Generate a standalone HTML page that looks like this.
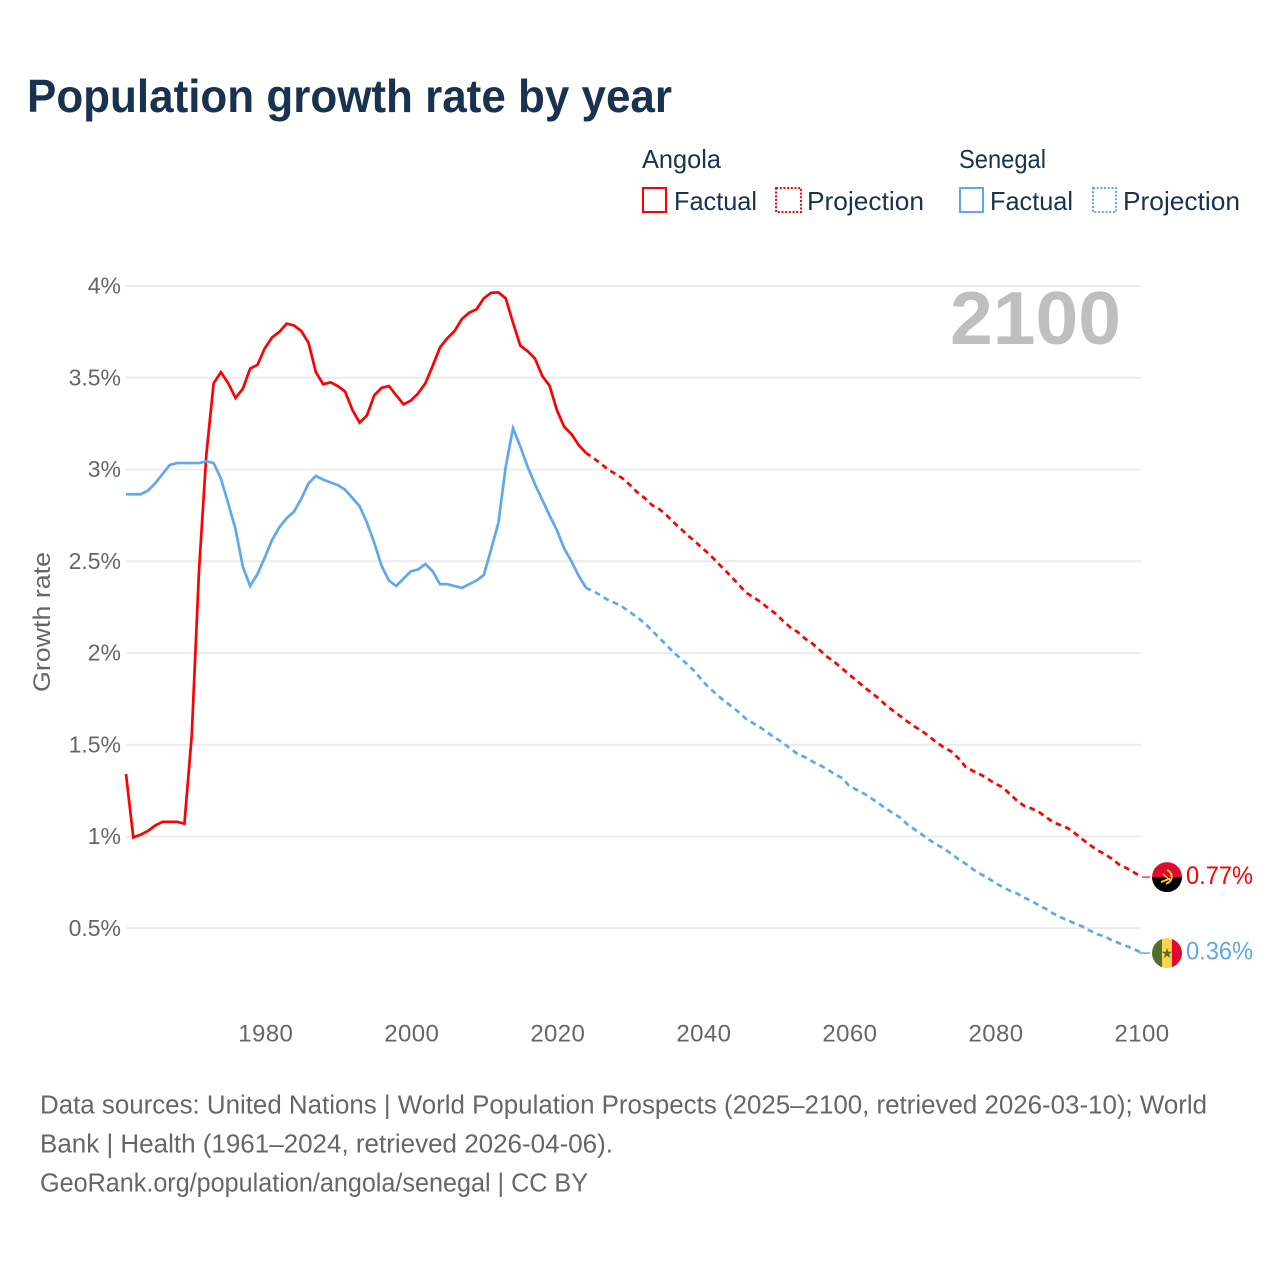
<!DOCTYPE html>
<html lang="en">
<head>
<meta charset="utf-8">
<title>Population growth rate by year</title>
<style>
html,body{margin:0;padding:0;background:#fff;width:1280px;height:1280px;overflow:hidden}
svg{display:block}
text{font-family:"Liberation Sans",sans-serif}
</style>
</head>
<body>
<svg id="chart" xmlns="http://www.w3.org/2000/svg" width="1280" height="1280" viewBox="0 0 1280 1280">
  <rect x="0" y="0" width="1280" height="1280" fill="#fff"/>
  <text x="27" y="112" font-size="46" font-weight="700" fill="#18324f" textLength="645" lengthAdjust="spacingAndGlyphs">Population growth rate by year</text>

  <g font-size="26" fill="#18324f">
    <text x="642" y="168" textLength="79" lengthAdjust="spacingAndGlyphs">Angola</text>
    <rect x="643" y="188" width="23" height="24" fill="#fff" stroke="#ff0000" stroke-width="2"/>
    <text x="674" y="210" textLength="83" lengthAdjust="spacingAndGlyphs">Factual</text>
    <rect x="776" y="188" width="25" height="24" fill="#fff" stroke="#ff0000" stroke-width="2" stroke-dasharray="2 1.7"/>
    <text x="807" y="210" textLength="117" lengthAdjust="spacingAndGlyphs">Projection</text>
    <text x="959" y="168" textLength="87" lengthAdjust="spacingAndGlyphs">Senegal</text>
    <rect x="960" y="188" width="23" height="24" fill="#fff" stroke="#5fa8ee" stroke-width="2"/>
    <text x="990" y="210" textLength="83" lengthAdjust="spacingAndGlyphs">Factual</text>
    <rect x="1093" y="188" width="23" height="24" fill="#fff" stroke="#5fa8ee" stroke-width="2" stroke-dasharray="2 1.7"/>
    <text x="1123" y="210" textLength="117" lengthAdjust="spacingAndGlyphs">Projection</text>
  </g>

  <g id="grid"></g>
  <g id="yticks" font-size="23" fill="#666" text-anchor="end"></g>
  <g id="xticks" font-size="24" fill="#666" text-anchor="middle"></g>
  <text transform="translate(50,622) rotate(-90)" font-size="24" fill="#666" text-anchor="middle" textLength="140" lengthAdjust="spacingAndGlyphs">Growth rate</text>
  <text x="1121" y="344" font-size="75" font-weight="700" fill="#bfbfbf" text-anchor="end" textLength="171" lengthAdjust="spacingAndGlyphs">2100</text>

  <g id="series"></g>
  <g id="ends"></g>

  <g font-size="25.5" fill="#666">
    <text x="40" y="1113.5" textLength="1167" lengthAdjust="spacingAndGlyphs">Data sources: United Nations | World Population Prospects (2025–2100, retrieved 2026-03-10); World</text>
    <text x="40" y="1152.5" textLength="573" lengthAdjust="spacingAndGlyphs">Bank | Health (1961–2024, retrieved 2026-04-06).</text>
    <text x="40" y="1191.5" textLength="548" lengthAdjust="spacingAndGlyphs">GeoRank.org/population/angola/senegal | CC BY</text>
  </g>
</svg>
<script>
var yTickValues = [0.5, 1, 1.5, 2, 2.5, 3, 3.5, 4];
var yTickLabels = ["0.5%", "1%", "1.5%", "2%", "2.5%", "3%", "3.5%", "4%"];
var xTickValues = [1980, 2000, 2020, 2040, 2060, 2080, 2100];
var xTickLabels = ["1980", "2000", "2020", "2040", "2060", "2080", "2100"];
var factualStartYear = 1961;
var projectionStartYear = 2024;
var endLabels = ["0.77%", "0.36%"];

var angolaFactual = [1.34,0.995,1.01,1.03,1.06,1.08,1.08,1.08,1.07,1.55,2.45,3.08,3.47,3.53,3.47,3.39,3.44,3.55,3.57,3.66,3.72,3.75,3.795,3.785,3.755,3.69,3.53,3.465,3.475,3.455,3.425,3.325,3.255,3.295,3.405,3.445,3.455,3.405,3.355,3.375,3.415,3.47,3.565,3.665,3.715,3.755,3.82,3.855,3.873,3.933,3.963,3.965,3.933,3.80,3.675,3.645,3.605,3.51,3.457,3.325,3.233,3.193,3.133,3.09];
var senegalFactual = [2.865,2.865,2.865,2.885,2.925,2.975,3.025,3.035,3.035,3.035,3.035,3.045,3.035,2.95,2.815,2.675,2.47,2.365,2.43,2.52,2.615,2.685,2.735,2.77,2.84,2.925,2.965,2.945,2.93,2.915,2.89,2.845,2.80,2.71,2.60,2.475,2.395,2.365,2.405,2.445,2.455,2.485,2.445,2.375,2.375,2.365,2.355,2.375,2.395,2.425,2.565,2.71,3.015,3.225,3.125,3.015,2.92,2.835,2.75,2.67,2.57,2.50,2.42,2.355];
var angolaProjection = [3.090,3.063,3.033,3.000,2.977,2.952,2.916,2.877,2.845,2.807,2.785,2.752,2.712,2.676,2.638,2.605,2.569,2.534,2.492,2.452,2.411,2.368,2.327,2.302,2.275,2.243,2.213,2.174,2.139,2.114,2.078,2.052,2.016,1.980,1.951,1.918,1.884,1.851,1.817,1.786,1.755,1.718,1.687,1.657,1.627,1.599,1.575,1.545,1.513,1.486,1.464,1.426,1.379,1.357,1.338,1.315,1.288,1.270,1.233,1.196,1.167,1.153,1.134,1.106,1.077,1.062,1.045,1.016,0.984,0.954,0.926,0.905,0.879,0.847,0.828,0.805,0.782];
var senegalProjection = [2.354,2.338,2.314,2.289,2.272,2.251,2.223,2.195,2.163,2.125,2.083,2.044,2.003,1.968,1.935,1.894,1.845,1.806,1.770,1.737,1.707,1.675,1.638,1.615,1.591,1.562,1.535,1.510,1.478,1.449,1.432,1.409,1.389,1.368,1.341,1.320,1.278,1.256,1.235,1.210,1.183,1.154,1.128,1.104,1.066,1.038,1.011,0.982,0.956,0.935,0.906,0.876,0.851,0.821,0.796,0.774,0.749,0.725,0.706,0.690,0.667,0.649,0.625,0.605,0.580,0.560,0.543,0.525,0.509,0.487,0.468,0.456,0.435,0.419,0.403,0.387,0.368];

var NS = "http://www.w3.org/2000/svg";
function xScale(year) { return 126 + (year - 1961) * (1015 / 139); }
function yScale(v) { return 1020 - v * 183.5; }
function make(tag, parent) {
  var el = document.createElementNS(NS, tag);
  document.getElementById(parent).appendChild(el);
  return el;
}
function pathFor(values, startYear) {
  return values.map(function (v, i) {
    return (i ? "L" : "M") + xScale(startYear + i).toFixed(2) + " " + yScale(v).toFixed(2);
  }).join("");
}

yTickValues.forEach(function (v, i) {
  var line = make("line", "grid");
  
  
  line.setAttribute("x1", 126);
  line.setAttribute("x2", 1141);
  line.setAttribute("y1", yScale(v));
  line.setAttribute("y2", yScale(v));
  line.setAttribute("stroke", "#ececec");
  line.setAttribute("stroke-width", 2);
  var t = make("text", "yticks");
  
  
  t.setAttribute("x", 121);
  t.setAttribute("y", yScale(v) + 7.5);
  t.textContent = yTickLabels[i];
});

xTickValues.forEach(function (yr, i) {
  var t = make("text", "xticks");
  
  
  t.setAttribute("x", xScale(yr) + 1);
  t.setAttribute("y", 1041.5);
  t.setAttribute("letter-spacing", "0.4");
  t.textContent = xTickLabels[i];
});

var red = "#ff0000";
var blue = "#5fa8ee";

var lineAF = make("path", "series");


lineAF.setAttribute("d", pathFor(angolaFactual, factualStartYear));
lineAF.setAttribute("fill", "none");
lineAF.setAttribute("stroke", red);
lineAF.setAttribute("stroke-width", 2.7);

var lineSF = make("path", "series");


lineSF.setAttribute("d", pathFor(senegalFactual, factualStartYear));
lineSF.setAttribute("fill", "none");
lineSF.setAttribute("stroke", blue);
lineSF.setAttribute("stroke-width", 2.7);

var lineAP = make("path", "series");


lineAP.setAttribute("d", pathFor(angolaProjection, projectionStartYear));
lineAP.setAttribute("fill", "none");
lineAP.setAttribute("stroke", red);
lineAP.setAttribute("stroke-width", 2.7);
lineAP.setAttribute("stroke-dasharray", "5.8 4.4");
lineAP.setAttribute("stroke-dashoffset", "0.4");

var lineSP = make("path", "series");


lineSP.setAttribute("d", pathFor(senegalProjection, projectionStartYear));
lineSP.setAttribute("fill", "none");
lineSP.setAttribute("stroke", blue);
lineSP.setAttribute("stroke-width", 2.7);
lineSP.setAttribute("stroke-dasharray", "5.8 4.4");
lineSP.setAttribute("stroke-dashoffset", "0.4");

/* End connectors, labels and flags follow the last projection values */
var yA = yScale(angolaProjection[angolaProjection.length - 1]) + 0.6;
var yS = yScale(senegalProjection[senegalProjection.length - 1]) + 0.6;

var connA = make("line", "ends");


connA.setAttribute("x1", 1142);
connA.setAttribute("x2", 1150);
connA.setAttribute("y1", yA);
connA.setAttribute("y2", yA);
connA.setAttribute("stroke", red);
connA.setAttribute("stroke-opacity", 0.75);
connA.setAttribute("stroke-width", 1.5);

var connS = make("line", "ends");


connS.setAttribute("x1", 1140);
connS.setAttribute("x2", 1150);
connS.setAttribute("y1", yS);
connS.setAttribute("y2", yS);
connS.setAttribute("stroke", blue);
connS.setAttribute("stroke-width", 1.5);

var defs = make("defs", "ends");
var clipA = document.createElementNS(NS, "clipPath");
clipA.setAttribute("id", "clipA");
defs.appendChild(clipA);
var clipACircle = document.createElementNS(NS, "circle");
clipACircle.setAttribute("cx", 1167);
clipACircle.setAttribute("cy", yA);
clipACircle.setAttribute("r", 15);
clipA.appendChild(clipACircle);
var clipS = document.createElementNS(NS, "clipPath");
clipS.setAttribute("id", "clipS");
defs.appendChild(clipS);
var clipSCircle = document.createElementNS(NS, "circle");
clipSCircle.setAttribute("cx", 1167);
clipSCircle.setAttribute("cy", yS);
clipSCircle.setAttribute("r", 15);
clipS.appendChild(clipSCircle);

var flagA = make("g", "ends");


flagA.setAttribute("id", "flagA");
flagA.setAttribute("clip-path", "url(#clipA)");
flagA.innerHTML =
  '<rect x="1152" y="' + (yA - 15) + '" width="30" height="15" fill="#df0a2e"/>' +
  '<rect x="1152" y="' + yA + '" width="30" height="15" fill="#000"/>' +
  '<path d="M1167 ' + (yA - 7) + 'A7 7 0 0 1 1166 ' + (yA + 6.5) + '" fill="none" stroke="#f8c93a" stroke-width="2"/>' +
  '<path d="M1161 ' + (yA + 5) + 'L1170 ' + (yA + 1.5) + '" stroke="#f8c93a" stroke-width="2"/>' +
  '<path d="M1163 ' + (yA - 3) + 'L1170 ' + (yA + 3) + '" stroke="#f8c93a" stroke-width="1.5"/>';

var flagS = make("g", "ends");


flagS.setAttribute("id", "flagS");
flagS.setAttribute("clip-path", "url(#clipS)");
flagS.innerHTML =
  '<rect x="1152" y="' + (yS - 15) + '" width="10" height="30" fill="#4f6f2c"/>' +
  '<rect x="1162" y="' + (yS - 15) + '" width="10" height="30" fill="#fdd34e"/>' +
  '<rect x="1172" y="' + (yS - 15) + '" width="10" height="30" fill="#df0a2e"/>' +
  '<text x="1167" y="' + (yS + 5) + '" font-size="14" text-anchor="middle" fill="#4f6f2c" style="font-family:\'DejaVu Sans\',sans-serif">★</text>';

var labelA = make("text", "ends");


labelA.setAttribute("x", 1186);
labelA.setAttribute("y", yA + 7);
labelA.setAttribute("font-size", 25);
labelA.setAttribute("fill", red);
labelA.setAttribute("textLength", 67);
labelA.setAttribute("lengthAdjust", "spacingAndGlyphs");
labelA.textContent = endLabels[0];

var labelS = make("text", "ends");


labelS.setAttribute("x", 1186);
labelS.setAttribute("y", yS + 6.5);
labelS.setAttribute("font-size", 25);
labelS.setAttribute("fill", blue);
labelS.setAttribute("textLength", 67);
labelS.setAttribute("lengthAdjust", "spacingAndGlyphs");
labelS.textContent = endLabels[1];
</script>
</body>
</html>
